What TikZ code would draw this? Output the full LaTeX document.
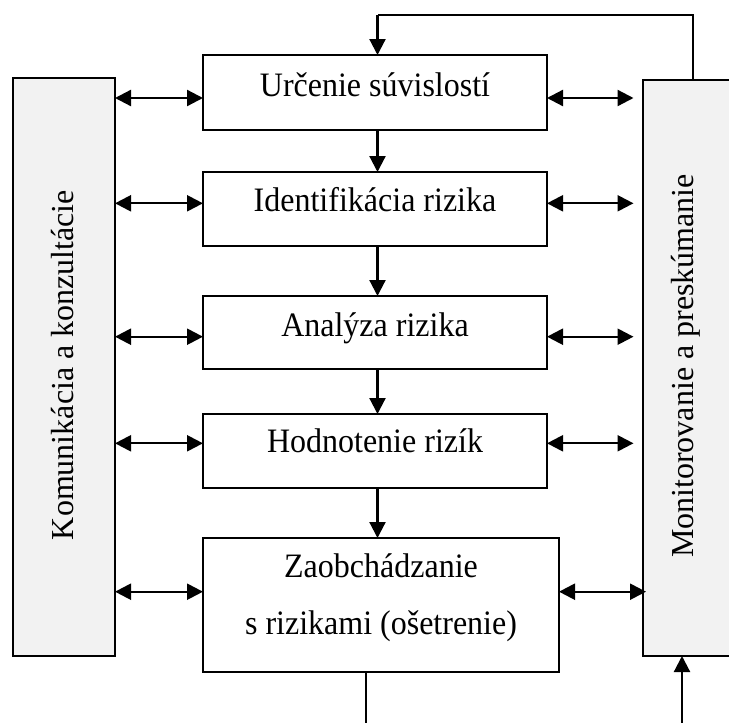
\documentclass[tikz,border=0pt]{standalone}
\usepackage{fontspec}
\setmainfont{Liberation Serif}
\usetikzlibrary{arrows.meta}
\definecolor{boxgray}{RGB}{242,242,242}
\newcommand{\tallt}[1]{\scalebox{1}[1.07]{#1}}
\begin{document}
\begin{tikzpicture}[x=1pt,y=-1pt,
  box/.style={draw=black, line width=2pt, fill=white, inner sep=0pt, outer sep=0pt},
  sidebox/.style={box, fill=boxgray},
  txt/.style={font=\fontsize{32}{38}\selectfont, anchor=base, inner sep=0pt},
  vtxt/.style={font=\fontsize{32}{38}\selectfont, anchor=base, inner sep=0pt, rotate=90},
  conn/.style={line width=2.2pt, -{Triangle[length=16pt,width=16pt]}},
  dconn/.style={line width=2.3pt, {Triangle[length=16pt,width=16pt]}-{Triangle[length=16pt,width=16pt]}},
  plainline/.style={line width=1.8pt}
]
\useasboundingbox (0,0) rectangle (729,723);
\clip (0,0) rectangle (729,723);

% side boxes
\node[sidebox, minimum width=102.5pt, minimum height=578pt] (L) at (63.75,367) {};
\node[sidebox, minimum width=117pt, minimum height=576pt] (R) at (701.5,368) {};
\node[vtxt] (Lt) at (73.3,365) {Komunikácia a konzultácie};
\node[vtxt] (Rt) at (693.3,366) {Monitorovanie a preskúmanie};

% process boxes
\node[box, minimum width=344pt, minimum height=75pt] (b1) at (375,92.5) {};
\node[box, minimum width=344pt, minimum height=74pt] (b2) at (375,209) {};
\node[box, minimum width=344pt, minimum height=73pt] (b3) at (375,332.5) {};
\node[box, minimum width=344pt, minimum height=74pt] (b4) at (375,451) {};
\node[box, minimum width=356pt, minimum height=134pt] (b5) at (381,605) {};

\node[txt] (t1) at (375,96.7) {\tallt{Určenie súvislostí}};
\node[txt] (t2) at (375,211.7) {\tallt{Identifikácia rizika}};
\node[txt] (t3) at (375,336) {\tallt{Analýza rizika}};
\node[txt] (t4) at (375,452.7) {\tallt{Hodnotenie rizík}};
\node[txt] (t5a) at (381,577.3) {\tallt{Zaobchádzanie}};
\node[txt] (t5b) at (381,634) {\tallt{s rizikami (ošetrenie)}};

% helper coordinates
\coordinate (y1) at (0,98);
\coordinate (y2) at (0,203.3);
\coordinate (y3) at (0,336.7);
\coordinate (y4) at (0,443.3);
\coordinate (y5) at (0,591.7);
\coordinate (rtip) at (633.5,0);
\coordinate (vx) at (377.5,0);
\coordinate (tl) at (692.7,15);
\coordinate (tm) at (377.5,15);
\coordinate (bl) at (366,723);
\coordinate (br) at (682,723);

% left double arrows
\foreach \b/\y in {b1/y1,b2/y2,b3/y3,b4/y4,b5/y5}
  \draw[dconn] (L.east |- \y) -- (\b.west |- \y);
% right double arrows
\foreach \b/\y in {b1/y1,b2/y2,b3/y3,b4/y4}
  \draw[dconn] (\b.east |- \y) -- (rtip |- \y);
\draw[dconn] (b5.east |- y5) -- ([xshift=3pt]R.west |- y5);

% main flow
\draw[conn] (b1.south -| vx) -- (b2.north -| vx);
\draw[conn] (b2.south -| vx) -- (b3.north -| vx);
\draw[conn] (b3.south -| vx) -- (b4.north -| vx);
\draw[conn] (b4.south -| vx) -- (b5.north -| vx);

% feedback loop on top
\draw[plainline] (R.north -| tl) -- (tl) -- (tm);
\draw[conn] (tm) -- (b1.north -| tm);

% bottom lines
\draw[plainline] (b5.south -| bl) -- (bl);
\draw[conn] (br) -- (R.south -| br);
\end{tikzpicture}
\end{document}
